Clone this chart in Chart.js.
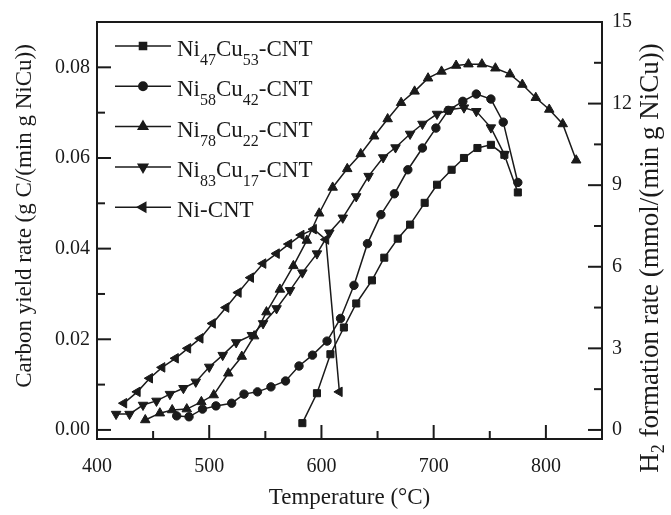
<!DOCTYPE html>
<html>
<head>
<meta charset="utf-8">
<script src="https://cdn.jsdelivr.net/npm/chart.js@4.4.0/dist/chart.umd.min.js"></script>
<style>
  html, body { margin: 0; padding: 0; background: #fff; }
</style>
</head>
<body>
<canvas id="myChart" width="671" height="515"></canvas>
<script>
const INK = "#1a1a1a";
const SERIF = "'Liberation Serif', 'Times New Roman', serif";

// series names, "_nn" marks a subscript
const seriesNames = ["Ni_47Cu_53-CNT", "Ni_58Cu_42-CNT", "Ni_78Cu_22-CNT", "Ni_83Cu_17-CNT", "Ni-CNT"];

// temperature (°C) and carbon yield rate (g C/(min g NiCu))
const tempNi47 = [583, 596, 608, 620, 631, 645, 656, 668, 679, 692, 703, 716, 727, 739, 751, 763, 775];
const rateNi47 = [0.0015, 0.0081, 0.0167, 0.0226, 0.0279, 0.033, 0.038, 0.0422, 0.0453, 0.0501, 0.0541, 0.0574, 0.060, 0.0622, 0.0629, 0.0607, 0.0524];

const tempNi58 = [471, 482, 494, 506, 520, 531, 543, 555, 568, 580, 592, 605, 617, 629, 641, 653, 665, 677, 690, 702, 713, 726, 738, 751, 762, 775];
const rateNi58 = [0.0031, 0.0029, 0.0046, 0.0053, 0.0059, 0.0079, 0.0084, 0.0095, 0.0108, 0.0141, 0.0165, 0.0196, 0.0246, 0.0319, 0.0411, 0.0475, 0.0521, 0.0574, 0.0622, 0.0666, 0.0705, 0.0725, 0.0741, 0.073, 0.0679, 0.0546];

const tempNi78 = [443, 456, 467, 480, 493, 504, 517, 529, 540, 551, 563, 575, 587, 598, 610, 623, 635, 647, 659, 671, 683, 695, 707, 720, 731, 743, 755, 768, 779, 791, 803, 815, 827];
const rateNi78 = [0.0022, 0.0037, 0.0044, 0.0046, 0.0062, 0.0077, 0.0125, 0.0162, 0.0207, 0.026, 0.031, 0.0362, 0.0418, 0.0478, 0.0535, 0.0576, 0.0609, 0.0648, 0.0686, 0.0722, 0.0747, 0.0776, 0.0791, 0.0804, 0.0807, 0.0807, 0.0798, 0.0785, 0.0762, 0.0733, 0.0707, 0.0675, 0.0595];

const tempNi83 = [417, 429, 441, 453, 465, 477, 488, 500, 512, 524, 538, 548, 560, 572, 583, 596, 607, 619, 631, 642, 655, 666, 679, 690, 703, 715, 727, 738, 751, 763];
const rateNi83 = [0.0035, 0.0035, 0.0055, 0.0064, 0.0079, 0.0092, 0.0106, 0.0139, 0.0165, 0.0193, 0.0209, 0.0235, 0.0268, 0.0308, 0.0347, 0.0389, 0.0435, 0.0468, 0.0515, 0.056, 0.0601, 0.0623, 0.0653, 0.0675, 0.0697, 0.0707, 0.0711, 0.0703, 0.0667, 0.0608];

const tempNi = [424, 436, 447, 458, 470, 481, 492, 503, 515, 526, 537, 548, 560, 571, 582, 593, 604, 616];
const rateNi = [0.0059, 0.0084, 0.0114, 0.0138, 0.0158, 0.018, 0.0202, 0.0235, 0.027, 0.0303, 0.0336, 0.0367, 0.0389, 0.041, 0.043, 0.0443, 0.042, 0.0084];

// tick labels
const xTickLabels = [400, 500, 600, 700, 800];
const leftTickLabels = [0, 0.02, 0.04, 0.06, 0.08];
const rightTickLabels = [0, 3, 6, 9, 12, 15];

const temps = [tempNi47, tempNi58, tempNi78, tempNi83, tempNi];
const rates = [rateNi47, rateNi58, rateNi78, rateNi83, rateNi];

const markers = [
  { pointStyle: "rect", radius: 5, rotation: 0 },
  { pointStyle: "circle", radius: 4.2, rotation: 0 },
  { pointStyle: "triangle", radius: 5.5, rotation: 0 },
  { pointStyle: "triangle", radius: 5.5, rotation: 180 },
  { pointStyle: "triangle", radius: 5.5, rotation: -90 },
];

const datasets = seriesNames.map((name, i) => ({
  label: name.replace(/_/g, ""),
  data: temps[i].map((t, j) => ({ x: t, y: rates[i][j] })),
  yAxisID: "y",
  borderColor: INK,
  borderWidth: 1.5,
  backgroundColor: INK,
  pointBackgroundColor: INK,
  pointBorderColor: INK,
  pointBorderWidth: 1,
  pointStyle: markers[i].pointStyle,
  pointRadius: markers[i].radius,
  pointRotation: markers[i].rotation,
  tension: 0,
  fill: false,
}));

// draw text where "_nn" parts are subscripts, returns end x
function drawRich(ctx, text, x, y, size, subSize, subDrop, measureOnly) {
  const parts = text.split(/_(\d+)/);
  parts.forEach((p, i) => {
    const isSub = i % 2 === 1;
    ctx.font = (isSub ? subSize : size) + "px " + SERIF;
    if (!measureOnly) ctx.fillText(p, x, y + (isSub ? subDrop : 0));
    x += ctx.measureText(p).width;
  });
  return x;
}

function drawMarker(ctx, m, x, y) {
  if (Chart.helpers && Chart.helpers.drawPoint) {
    Chart.helpers.drawPoint(ctx, { pointStyle: m.pointStyle, rotation: m.rotation, radius: m.radius, borderWidth: 1 }, x, y);
  }
}

const framePlugin = {
  id: "framePlugin",
  afterDraw(chart) {
    const { ctx, chartArea: a, scales } = chart;
    ctx.save();
    ctx.strokeStyle = INK;
    ctx.fillStyle = INK;
    ctx.lineWidth = 2;
    ctx.strokeRect(a.left, a.top, a.right - a.left, a.bottom - a.top);

    const tick = (x1, y1, x2, y2) => { ctx.beginPath(); ctx.moveTo(x1, y1); ctx.lineTo(x2, y2); ctx.stroke(); };
    // inward ticks, major + minor
    for (let t = 400; t <= 850; t += 50) {
      const px = scales.x.getPixelForValue(t);
      tick(px, a.bottom, px, a.bottom - (t % 100 === 0 ? 14 : 8));
    }
    for (let k = 0; k <= 9; k++) {
      const py = scales.y.getPixelForValue(k * 0.01);
      tick(a.left, py, a.left + (k % 2 === 0 ? 14 : 8), py);
    }
    for (let k = 0; k <= 10; k++) {
      const py = scales.y2.getPixelForValue(k * 1.5);
      tick(a.right, py, a.right - (k % 2 === 0 ? 14 : 8), py);
    }

    // axis titles
    ctx.textBaseline = "middle";
    const leftTitle = "Carbon yield rate (g C/(min g NiCu))";
    ctx.font = "23px " + SERIF;
    ctx.save();
    ctx.translate(25, 216);
    ctx.rotate(-Math.PI / 2);
    ctx.textAlign = "center";
    ctx.fillText(leftTitle, 0, 0);
    ctx.restore();

    const rightTitle = "H_2 formation rate (mmol/(min g NiCu))";
    const w = drawRich(ctx, rightTitle, 0, 0, 27, 18, 8, true);
    ctx.save();
    ctx.translate(651, 258);
    ctx.rotate(-Math.PI / 2);
    ctx.textAlign = "left";
    drawRich(ctx, rightTitle, -w / 2, 0, 27, 18, 8, false);
    ctx.restore();

    // legend
    ctx.textAlign = "left";
    ctx.textBaseline = "alphabetic";
    ctx.lineWidth = 1.5;
    seriesNames.forEach((name, i) => {
      const ry = 46 + i * 40.3;
      tick(115, ry, 171, ry);
      drawMarker(ctx, markers[i], 143, ry);
      drawRich(ctx, name, 177, ry + 10, 23, 16, 9, false);
    });
    ctx.restore();
  },
};

const tickFont = { family: SERIF, size: 20 };

new Chart(document.getElementById("myChart"), {
  type: "line",
  data: { datasets },
  options: {
    responsive: false,
    animation: false,
    devicePixelRatio: 1,
    layout: { padding: { top: 20, left: 0, right: 0, bottom: 0 } },
    plugins: { legend: { display: false }, tooltip: { enabled: false } },
    scales: {
      x: {
        type: "linear",
        min: 400,
        max: 850,
        afterBuildTicks: (s) => { s.ticks = xTickLabels.map((v) => ({ value: v })); },
        afterFit: (s) => { s.height = 76; },
        grid: { display: false, drawTicks: false },
        border: { display: false },
        ticks: { padding: 16, color: INK, font: tickFont, maxRotation: 0 },
        title: { display: true, text: "Temperature (°C)", color: INK, font: { family: SERIF, size: 23 }, padding: { top: 0, bottom: 3 } },
      },
      y: {
        type: "linear",
        position: "left",
        min: -0.002,
        max: 0.09,
        afterBuildTicks: (s) => { s.ticks = leftTickLabels.map((v) => ({ value: v })); },
        afterFit: (s) => { s.width = 97; },
        grid: { display: false, drawTicks: false },
        border: { display: false },
        ticks: { padding: 7, color: INK, font: tickFont, callback: (v) => Number(v).toFixed(2) },
      },
      y2: {
        type: "linear",
        position: "right",
        min: -0.333,
        max: 15,
        afterBuildTicks: (s) => { s.ticks = rightTickLabels.map((v) => ({ value: v })); },
        afterFit: (s) => { s.width = 69; },
        grid: { display: false, drawTicks: false },
        border: { display: false },
        ticks: { padding: 10, color: INK, font: tickFont, callback: (v) => String(v) },
      },
    },
  },
  plugins: [framePlugin],
});
</script>
</body>
</html>
